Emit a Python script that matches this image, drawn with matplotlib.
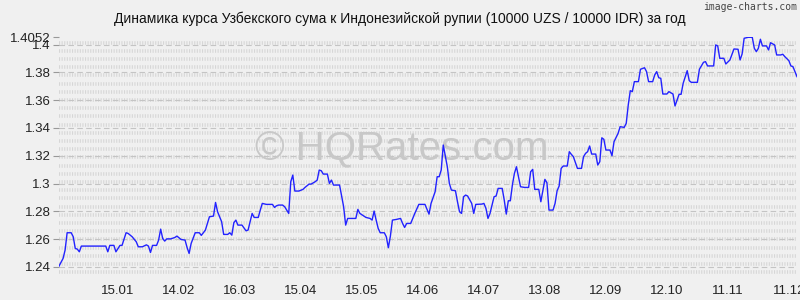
import datetime as dt

import numpy as np
import matplotlib
matplotlib.use('Agg')
from matplotlib import pyplot as plt
import matplotlib.dates as mdates

plt.rcParams['font.family'] = ['Liberation Sans', 'DejaVu Sans']

title = 'Динамика курса Узбекского сума к Индонезийской рупии (10000 UZS / 10000 IDR) за год'
start = dt.date(2024, 12, 17)

# day offset from start -> rate
days = [0, 2, 3, 4, 6, 7, 8, 9, 10, 11, 23, 24, 25, 27, 28, 30, 31, 33, 34, 36,
        38, 39, 41, 43, 44, 45, 46, 48, 49, 50, 51, 52, 53, 55, 57, 58, 60, 62, 63, 64,
        65, 67, 69, 70, 72, 74, 76, 77, 78, 80, 81, 83, 84, 85, 86, 87, 88, 90, 92, 93,
        94, 95, 96, 98, 99, 100, 102, 105, 106, 107, 108, 110, 111, 112, 113, 114, 115, 116, 118, 120,
        121, 123, 124, 126, 127, 128, 129, 130, 132, 133, 134, 135, 138, 140, 141, 142, 146, 147, 148, 150,
        151, 153, 154, 155, 156, 157, 158, 160, 161, 162, 163, 164, 166, 168, 169, 170, 171, 173, 175, 177,
        180, 182, 183, 185, 186, 187, 188, 189, 191, 192, 193, 195, 196, 197, 198, 199, 200, 201, 203, 204,
        205, 208, 209, 210, 211, 212, 214, 215, 216, 218, 219, 220, 221, 222, 223, 224, 225, 227, 229, 231,
        232, 233, 234, 236, 237, 239, 240, 241, 243, 244, 245, 246, 247, 248, 250, 251, 252, 253, 255, 257,
        258, 259, 260, 261, 262, 264, 265, 266, 267, 268, 269, 271, 272, 273, 275, 276, 278, 279, 280, 281,
        282, 283, 285, 286, 288, 289, 290, 292, 293, 294, 295, 296, 297, 299, 300, 302, 303, 305, 306, 307,
        309, 310, 311, 314, 315, 317, 318, 319, 322, 323, 324, 325, 327, 328, 330, 332, 334, 335, 336, 337,
        339, 341, 342, 343, 344, 345, 346, 348, 349, 350, 352, 353, 355, 356, 357, 359, 360, 361, 362, 363]
rates = [1.2406, 1.2461, 1.2521, 1.2646, 1.2646, 1.2617, 1.2533, 1.2528, 1.2509, 1.2550,
         1.2550, 1.2509, 1.2555, 1.2555, 1.2509, 1.2555, 1.2555, 1.2646, 1.2641, 1.2617,
         1.2581, 1.2545, 1.2545, 1.2559, 1.2550, 1.2504, 1.2555, 1.2555, 1.2593, 1.2672,
         1.2605, 1.2586, 1.2602, 1.2602, 1.2612, 1.2622, 1.2598, 1.2593, 1.2540, 1.2497,
         1.2569, 1.2646, 1.2646, 1.2627, 1.2665, 1.2761, 1.2766, 1.2864, 1.2797, 1.2725,
         1.2634, 1.2634, 1.2646, 1.2629, 1.2718, 1.2737, 1.2701, 1.2701, 1.2660, 1.2665,
         1.2725, 1.2785, 1.2756, 1.2756, 1.2809, 1.2857, 1.2850, 1.2850, 1.2828, 1.2840,
         1.2845, 1.2845, 1.2833, 1.2809, 1.2785, 1.3013, 1.3061, 1.2946, 1.2946, 1.2958,
         1.2972, 1.2996, 1.2996, 1.3013, 1.3025, 1.3097, 1.3092, 1.3068, 1.3068, 1.3001,
         1.3025, 1.2989, 1.2989, 1.2833, 1.2701, 1.2749, 1.2749, 1.2814, 1.2785, 1.2766,
         1.2756, 1.2749, 1.2737, 1.2802, 1.2737, 1.2677, 1.2646, 1.2646, 1.2617, 1.2538,
         1.2622, 1.2737, 1.2742, 1.2749, 1.2713, 1.2684, 1.2713, 1.2713, 1.2785, 1.2850,
         1.2850, 1.2780, 1.2857, 1.2941, 1.3049, 1.3049, 1.3097, 1.3277, 1.3121, 1.3001,
         1.2953, 1.2948, 1.2869, 1.2797, 1.2785, 1.2905, 1.2917, 1.2910, 1.2857, 1.2785,
         1.2850, 1.2852, 1.2857, 1.2821, 1.2749, 1.2785, 1.2905, 1.2910, 1.2965, 1.2965,
         1.2881, 1.2780, 1.2876, 1.2876, 1.2989, 1.3073, 1.3121, 1.2977, 1.2972, 1.2972,
         1.3085, 1.3102, 1.2958, 1.2958, 1.2869, 1.3030, 1.3006, 1.2809, 1.2809, 1.2857,
         1.2948, 1.2982, 1.3109, 1.3126, 1.3126, 1.3229, 1.3210, 1.3193, 1.3109, 1.3109,
         1.3193, 1.3217, 1.3229, 1.3270, 1.3212, 1.3212, 1.3133, 1.3157, 1.3329, 1.3318,
         1.3241, 1.3241, 1.3200, 1.3301, 1.3361, 1.3409, 1.3404, 1.3433, 1.3565, 1.3668,
         1.3661, 1.3733, 1.3733, 1.3822, 1.3833, 1.3805, 1.3733, 1.3733, 1.3781, 1.3805,
         1.3761, 1.3757, 1.3644, 1.3644, 1.3661, 1.3644, 1.3558, 1.3642, 1.3642, 1.3721,
         1.3812, 1.3740, 1.3728, 1.3728, 1.3822, 1.3872, 1.3877, 1.3846, 1.3846, 1.3997,
         1.3990, 1.3901, 1.3901, 1.3860, 1.3889, 1.3968, 1.3966, 1.3889, 1.3932, 1.4045,
         1.4052, 1.4052, 1.3973, 1.3949, 1.3973, 1.4038, 1.3990, 1.3990, 1.3961, 1.4013,
         1.3997, 1.3925, 1.3925, 1.3930, 1.3913, 1.3884, 1.3846, 1.3841, 1.3805, 1.3769]

y_ticks = [1.24, 1.26, 1.28, 1.3, 1.32, 1.34, 1.36, 1.38, 1.4]
x_tick_days = [29, 59, 89, 119, 149, 179, 209, 239, 269, 299, 329, 359]

dates = [start + dt.timedelta(days=d) for d in days]
y_max = max(rates)
y_min = 1.2342

bg = '#f0f0f0'
fig = plt.figure(figsize=(8, 3), dpi=100, facecolor=bg)
ax = fig.add_axes([59 / 800, 25 / 300, 738 / 800, 237.7 / 300])
ax.set_facecolor(bg)

# background rows of little vertical dashes
for f in np.arange(0.012, 1.0, 8.2 / 237.7):
    ax.plot([0, 1], [f, f], transform=ax.transAxes, color='#d6d6d6',
            lw=2.6, dashes=(0.3, 0.42), solid_capstyle='butt', zorder=0)
for yt in y_ticks:
    ax.axhline(yt, color='#c4c4c4', lw=0.8, dashes=(5, 3), zorder=1)

ax.text(0.465, 0.53, '© HQRates.com', transform=ax.transAxes, ha='center', va='center',
        fontsize=29, color='#c8c8c8', zorder=1)

ax.plot(dates, rates, color='#2222ff', lw=1.0, zorder=3)

ax.set_xlim(start, start + dt.timedelta(days=363))
ax.set_ylim(y_min, y_max)

ax.set_yticks(y_ticks + [y_max])
ax.set_yticklabels([f'{v:g}' for v in y_ticks] + [f'{y_max:g}'])
ax.set_xticks([start + dt.timedelta(days=d) for d in x_tick_days])
ax.xaxis.set_major_formatter(mdates.DateFormatter('%d.%m'))

ax.tick_params(axis='y', length=4, width=0.8, color='#999999', pad=2,
               labelsize=9.5, labelcolor='#222222')
ax.tick_params(axis='x', length=0, pad=7, labelsize=9.5, labelcolor='#222222')
for s in ax.spines.values():
    s.set_visible(False)

fig.text(0.5, 1 - 19 / 300, title, ha='center', va='center', fontsize=10, color='#111111')
fig.text(0.997, 1 - 7 / 300, 'image-charts.com', ha='right', va='center',
         fontsize=7, color='#444444', family='DejaVu Sans Mono')

fig.savefig('out.png', dpi=100, facecolor=bg)
